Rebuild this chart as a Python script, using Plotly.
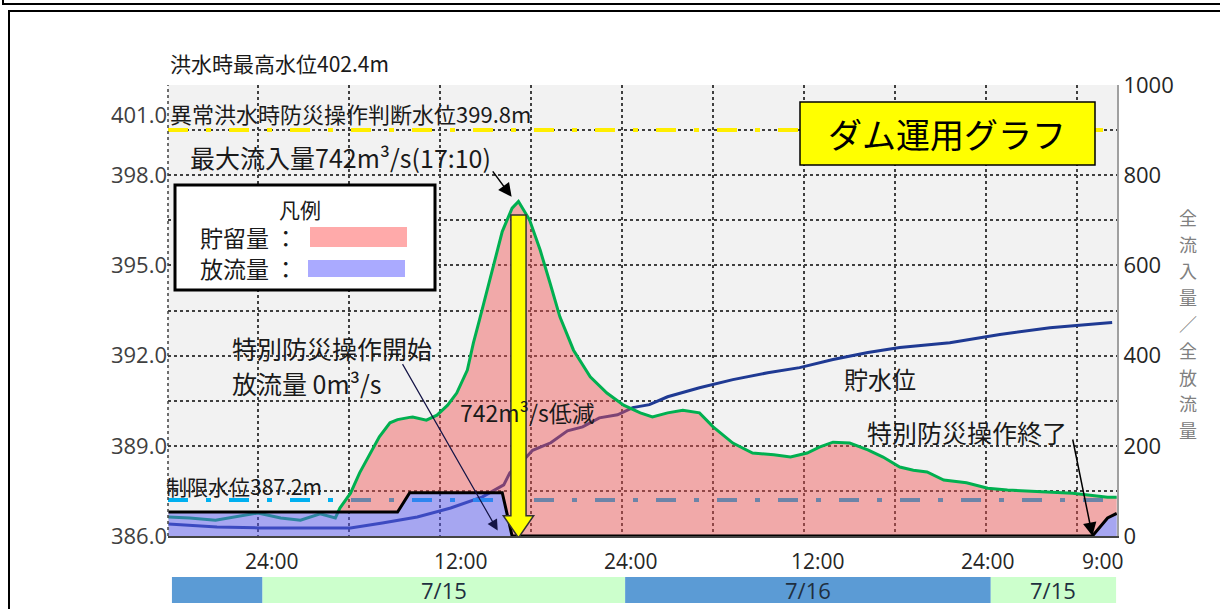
import numpy as np
import plotly.graph_objects as go

# ---------------- data (hours counted from 7/15 0:00) ----------------
hours = [-5.9, -4.5, -2.8, -1.2, 0.0, 1.5, 2.8, 4.1, 5.1, 5.4, 6.1, 6.7, 7.4, 8.0, 8.7, 9.2,
         10.0, 10.2, 11.1, 11.8, 12.5, 13.1, 13.8, 14.2, 14.6, 15.3, 16.0, 16.1,
         16.75, 17.17, 17.9, 18.6, 19.25, 19.9, 20.8, 21.9, 23.0, 24.1, 25.2, 26.0, 27.0, 28.0,
         29.1, 30.0, 31.3, 32.6, 34.0, 35.1, 36.2, 37.0, 37.9, 39.0, 40.2, 41.2, 42.3, 43.2,
         44.1, 45.2, 46.7, 48.1, 49.4, 51.6, 53.7, 55.0,
         56.0, 56.6]
inflow = [42, 40, 35, 44, 51, 40, 35, 49, 40, 62, 95, 140, 184, 220, 251, 258,
          263, 264, 257, 268, 290, 317, 368, 428, 479, 568, 656, 675,
          727, 742, 701, 634, 561, 486, 412, 353, 317, 290, 273, 264, 273, 279,
          273, 242, 206, 184, 180, 175, 184, 197, 208, 206, 191, 175, 153, 146,
          142, 124, 118, 106, 102, 98, 95, 90,
          86, 86]
outflow = [53, 53, 53, 53, 53, 53, 53, 53, 53, 53, 53, 53, 53, 53, 53, 53,
           96, 96, 96, 96, 96, 96, 96, 96, 96, 96, 96, 96,
           0, 0, 0, 0, 0, 0, 0, 0, 0, 0, 0, 0, 0, 0,
           0, 0, 0, 0, 0, 0, 0, 0, 0, 0, 0, 0, 0, 0,
           0, 0, 0, 0, 0, 0, 0, 0,
           40, 50]

wl_hours = [-5.9, -2.7, 0.1, 6.1, 8.2, 10.5, 12.7, 14.8, 16.2, 16.6, 17.7, 18.1, 19.3, 20.4,
            21.4, 22.5, 23.7, 24.7, 25.8, 27.0, 29.1, 31.3, 33.6, 35.7, 37.9, 40.2, 42.3,
            45.6, 48.9, 52.2, 55.5, 56.3]
water_level = [386.40, 386.30, 386.27, 386.27, 386.43, 386.63, 386.93, 387.30, 387.70, 388.10,
               388.63, 388.85, 389.10, 389.50, 389.63, 389.93, 390.03, 390.27, 390.37, 390.63,
               390.93, 391.20, 391.43, 391.60, 391.87, 392.10, 392.27, 392.43, 392.70, 392.93,
               393.07, 393.10]

limit_level = 387.2          # 制限水位
abnormal_level = 399.5       # 異常洪水時防災操作判断水位 (as drawn)
peak_time = 17.17            # 17:10
peak_value = 742

left_tickvals = [386, 389, 392, 395, 398, 400]
left_ticktext = ["386.0", "389.0", "392.0", "395.0", "398.0", "401.0"]
right_tickvals = [0, 100, 200, 300, 400, 500, 600, 700, 800, 900, 1000]
right_ticktext = ["0", "", "200", "", "400", "", "600", "", "800", "", "1000"]
right_title = "全流入量／全放流量"

time_labels = ["24:00", "12:00", "24:00", "12:00", "24:00", "9:00"]
time_label_hours = [0.9, 13.4, 24.6, 36.9, 48.1, 55.7]

date_bounds = [-5.67, 0.3, 24.2, 48.3, 56.56]
date_labels = ["", "7/15", "7/16", "7/15"]
date_colors = ["#5b9bd5", "#ccffcc", "#5b9bd5", "#ccffcc"]

X_MIN, X_MAX = -5.93, 56.62

# ---------------- layout helpers ----------------
W, H = 1220, 609
L, R, T, B = 168, 103, 85, 73
PW, PH = W - L - R, H - T - B


def PX(x):
    return (x - L) / PW


def PY(y):
    return (H - B - y) / PH


CJK = "Noto Sans CJK JP"
NUM = "Open Sans, Noto Sans CJK JP"
DASH = "20px,18px,5px,18px"

fig = go.Figure()

fig.add_trace(go.Scatter(x=wl_hours, y=water_level, yaxis="y", mode="lines",
                         line=dict(color="#1f3a93", width=3), hoverinfo="skip"))
fig.add_trace(go.Scatter(x=[X_MIN, X_MAX], y=[limit_level, limit_level], yaxis="y", mode="lines",
                         line=dict(color="#00b0f0", width=4, dash=DASH), hoverinfo="skip"))
# storage (pink) between outflow and inflow
fig.add_trace(go.Scatter(x=hours, y=outflow, yaxis="y2", mode="lines",
                         line=dict(width=0), hoverinfo="skip"))
fig.add_trace(go.Scatter(x=hours, y=np.maximum(inflow, outflow), yaxis="y2", mode="lines",
                         line=dict(width=0), fill="tonexty",
                         fillcolor="rgba(240,80,80,0.45)", hoverinfo="skip"))
fig.add_trace(go.Scatter(x=hours, y=inflow, yaxis="y2", mode="lines",
                         line=dict(color="#00b050", width=3), hoverinfo="skip"))
fig.add_trace(go.Scatter(x=hours, y=outflow, yaxis="y2", mode="lines",
                         line=dict(width=0), fill="tozeroy",
                         fillcolor="rgba(90,90,240,0.5)", hoverinfo="skip"))
fig.add_trace(go.Scatter(x=hours, y=outflow, yaxis="y2", mode="lines",
                         line=dict(color="black", width=3), hoverinfo="skip"))
fig.add_trace(go.Scatter(x=[X_MIN, X_MAX], y=[abnormal_level, abnormal_level], yaxis="y", mode="lines",
                         line=dict(color="#ffee00", width=4, dash=DASH), hoverinfo="skip"))

shapes = []
# outer frames
shapes.append(dict(type="rect", xref="paper", yref="paper", x0=PX(3), x1=PX(1240), y0=PY(-30), y1=PY(4),
                   line=dict(color="black", width=2)))
shapes.append(dict(type="rect", xref="paper", yref="paper", x0=PX(9), x1=PX(1240), y0=PY(650), y1=PY(11),
                   line=dict(color="black", width=2)))
# left border dotted
shapes.append(dict(type="line", xref="paper", yref="paper", x0=0, x1=0, y0=0, y1=1,
                   line=dict(color="#404040", width=1.5, dash="dot")))
# yellow reduction arrow
bw, hw, ytop, yhead, ytip = 0.5, 1.0, peak_value - 30, 45, -4
path = (f"M {peak_time - bw},{ytop} L {peak_time + bw},{ytop} L {peak_time + bw},{yhead} "
        f"L {peak_time + hw},{yhead} L {peak_time},{ytip} L {peak_time - hw},{yhead} "
        f"L {peak_time - bw},{yhead} Z")
shapes.append(dict(type="path", xref="x", yref="y2", path=path, fillcolor="#ffff00",
                   line=dict(color="#333333", width=1.5)))
# legend box
shapes.append(dict(type="rect", xref="paper", yref="paper", x0=PX(175), x1=PX(435), y0=PY(290), y1=PY(185),
                   fillcolor="white", line=dict(color="black", width=3)))
shapes.append(dict(type="rect", xref="paper", yref="paper", x0=PX(310), x1=PX(407), y0=PY(247), y1=PY(227),
                   fillcolor="#ffaaaa", line=dict(width=0)))
shapes.append(dict(type="rect", xref="paper", yref="paper", x0=PX(308), x1=PX(405), y0=PY(277), y1=PY(260),
                   fillcolor="#aaaaff", line=dict(width=0)))
# title box
shapes.append(dict(type="rect", xref="paper", yref="paper", x0=PX(800), x1=PX(1095), y0=PY(165), y1=PY(102),
                   fillcolor="#ffff00", line=dict(color="black", width=1.5)))
# date bar
for i, c in enumerate(date_colors):
    shapes.append(dict(type="rect", xref="x", yref="paper", x0=date_bounds[i], x1=date_bounds[i + 1],
                       y0=PY(603), y1=PY(577), fillcolor=c, line=dict(width=0)))

annotations = []


def txt(s, x, y, size=22, xanchor="left", color="#1a1a1a", family=CJK, pad=1):
    return dict(text=s, x=PX(x), y=PY(y), xref="paper", yref="paper", xanchor=xanchor,
                yanchor="middle", showarrow=False, borderpad=pad,
                font=dict(family=family, size=size, color=color))


annotations += [
    txt("洪水時最高水位402.4m", 168, 63, 21),
    txt("異常洪水時防災操作判断水位399.8m", 168, 113, 22),
    txt("最大流入量742m³/s(17:10)", 188, 157, 25),
    txt("凡例", 300, 209, 21, xanchor="center"),
    txt("貯留量 ：", 198, 237, 23),
    txt("放流量 ：", 198, 268, 23),
    txt("ダム運用グラフ", 947, 133, 34, xanchor="center", color="black"),
    txt("特別防災操作開始", 230, 348, 25),
    txt("放流量 0m³/s", 230, 383, 25),
    txt("742m³/s低減", 458, 412, 23),
    txt("貯水位", 842, 378, 24),
    txt("特別防災操作終了", 865, 432, 25),
    txt("制限水位387.2m", 164, 486, 21),
]
# vertical right-axis title, one character per row
for i, ch in enumerate(right_title):
    annotations.append(txt(ch, 1188, 217 + 26.6 * i, 18, xanchor="center", color="#808080", pad=0))

for lab, hx in zip(time_labels, time_label_hours):
    annotations.append(dict(text=lab, x=hx, y=PY(561), xref="x", yref="paper", xanchor="center",
                            yanchor="middle", showarrow=False, borderpad=0,
                            font=dict(family=NUM, size=21, color="#262626")))
for i, lab in enumerate(date_labels):
    if lab:
        annotations.append(dict(text=lab, x=(date_bounds[i] + date_bounds[i + 1]) / 2, y=PY(590),
                                xref="x", yref="paper", xanchor="center", yanchor="middle",
                                showarrow=False, font=dict(family=NUM, size=22, color="#1f2f3f")))

# arrows
annotations.append(dict(text="", x=peak_time - 0.45, y=peak_value + 10, xref="x", yref="y2",
                        ax=-20, ay=-27, showarrow=True, arrowhead=2, arrowsize=1.8,
                        arrowwidth=1.5, arrowcolor="black"))
annotations.append(dict(text="", x=15.8, y=12, xref="x", yref="y2",
                        ax=-96, ay=-168, showarrow=True, arrowhead=2, arrowsize=1.8,
                        arrowwidth=1.2, arrowcolor="#141446"))
annotations.append(dict(text="", x=55.0, y=0, xref="x", yref="y2",
                        ax=-20, ay=-98, showarrow=True, arrowhead=2, arrowsize=1.8,
                        arrowwidth=1.5, arrowcolor="black"))

fig.update_layout(
    width=W, height=H,
    margin=dict(l=L, r=R, t=T, b=B, pad=0),
    paper_bgcolor="white", plot_bgcolor="#f2f2f2",
    showlegend=False,
    xaxis=dict(range=[X_MIN, X_MAX], tick0=0, dtick=6, showgrid=True, gridcolor="#404040",
               griddash="dot", gridwidth=1.5, showticklabels=False, zeroline=False,
               showline=True, linecolor="#444444", linewidth=1.5, ticks=""),
    yaxis=dict(range=[386, 401], tickvals=left_tickvals, ticktext=left_ticktext, showgrid=False,
               zeroline=False, ticks="", tickfont=dict(family=NUM, size=22, color="#404040")),
    yaxis2=dict(range=[0, 1000], overlaying="y", side="right", tickvals=right_tickvals,
                ticktext=right_ticktext, showgrid=True, gridcolor="#404040", griddash="dot",
                gridwidth=1.5, zeroline=False, showline=True, linecolor="#a0a0a0", linewidth=2,
                ticks="", tickfont=dict(family=NUM, size=22, color="#262626")),
    shapes=shapes,
    annotations=annotations,
)

fig.write_html("out.html", config={"displayModeBar": False},
               post_script="document.body.style.margin='0px';document.body.style.overflow='hidden';")
